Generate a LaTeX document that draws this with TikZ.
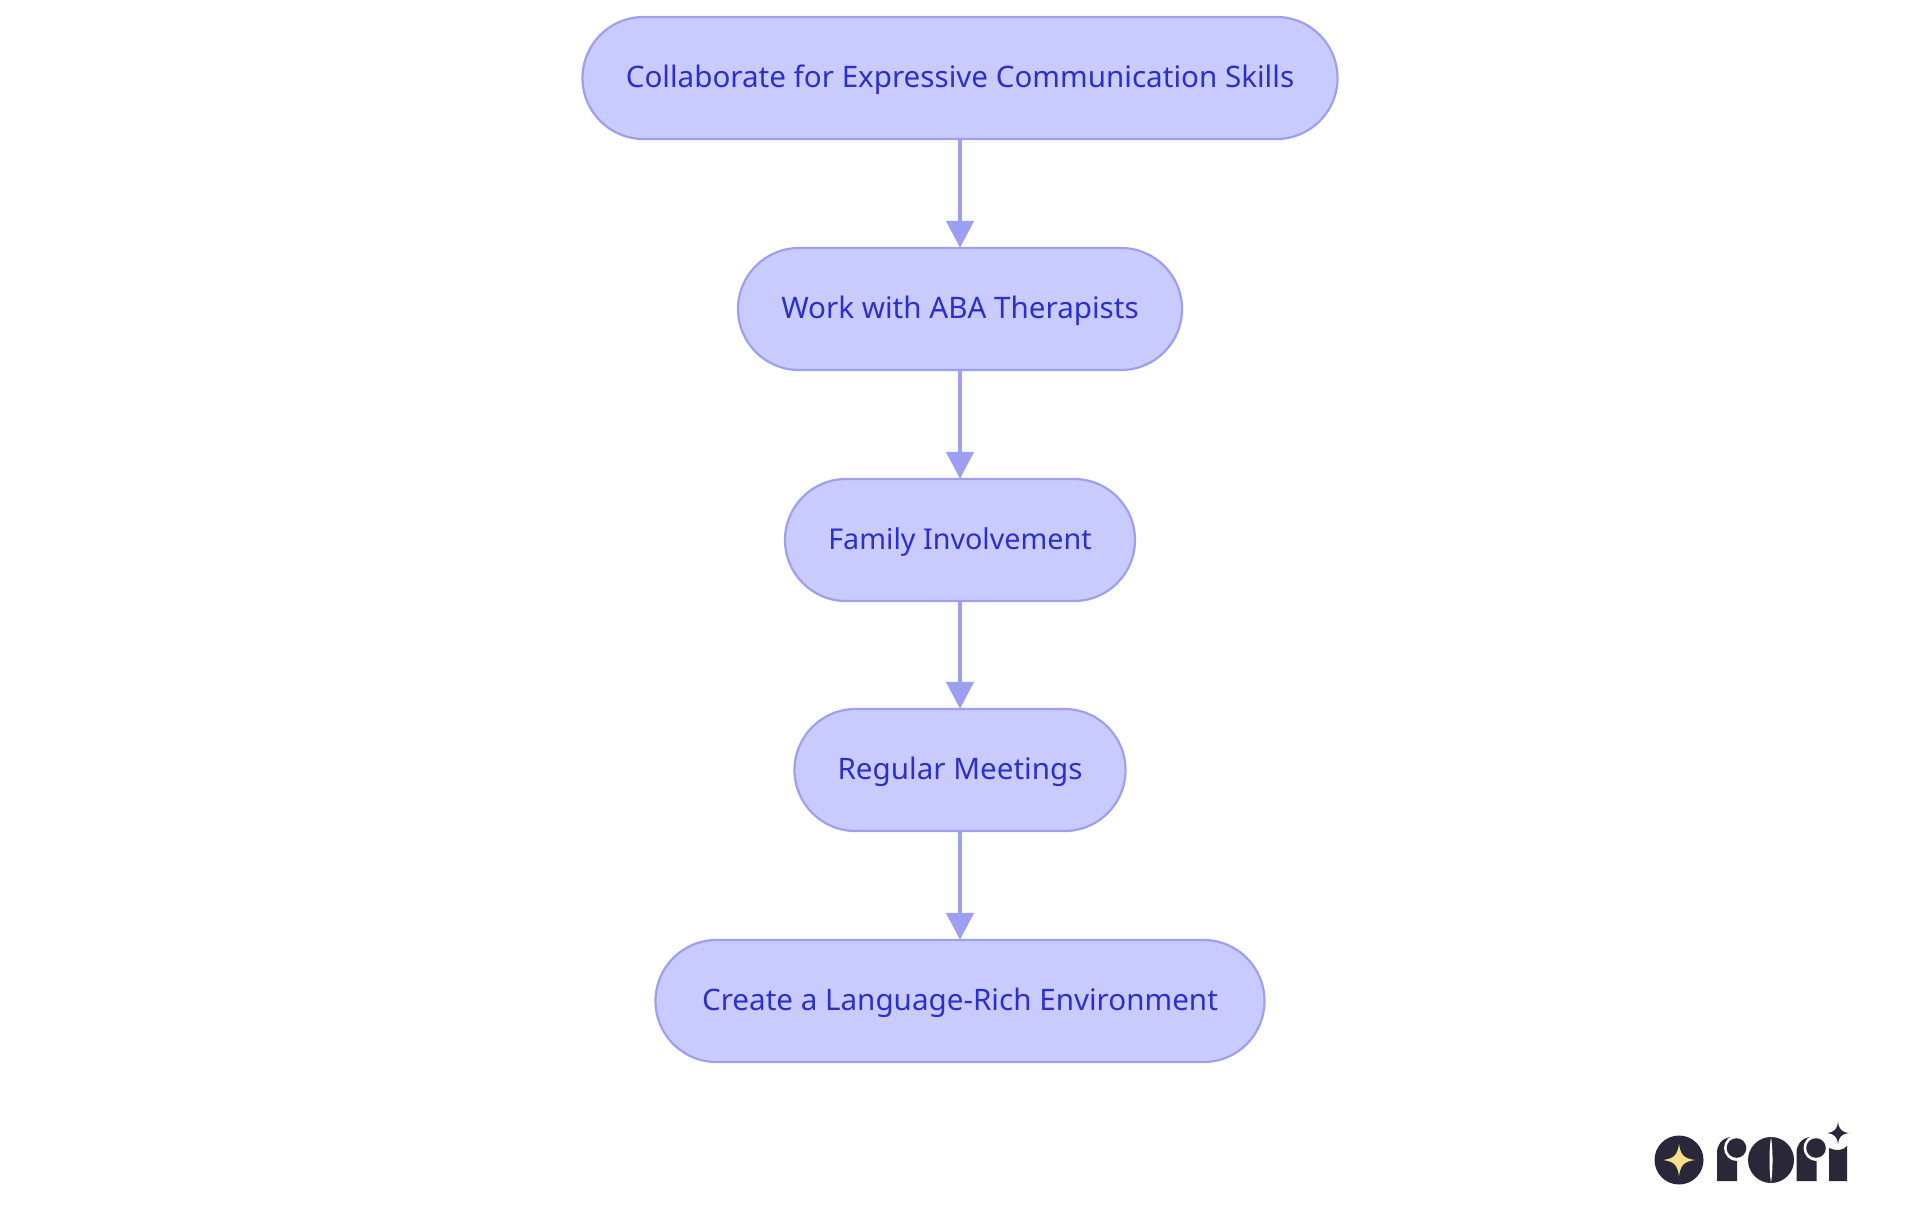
\documentclass[tikz,border=0pt]{standalone}
\usepackage{fontspec}
\setmainfont{Noto Sans}
\usetikzlibrary{arrows.meta}
\definecolor{pillfill}{HTML}{C9CBFF}
\definecolor{pillline}{HTML}{9DA0F2}
\definecolor{pilltext}{HTML}{2B2FCB}
\definecolor{logodark}{HTML}{2A2838}
\definecolor{logostar}{HTML}{FBDD8C}
\tikzset{
  pill/.style={draw=pillline,fill=pillfill,line width=1.1pt,rounded corners=30.5pt,minimum height=61pt,inner sep=0pt,text=pilltext,text height=12.3pt,text depth=3pt,font=\fontsize{14.8pt}{17pt}\selectfont},
  link/.style={draw=pillline,line width=2.3pt,-{Triangle[length=13.5pt,width=13.5pt]},shorten >=-0.5pt},
  logoshape/.style={fill=logodark,draw=none},
}
\begin{document}
\begin{tikzpicture}[x=0.5pt,y=-0.5pt]
\useasboundingbox[fill=white] (0,0) rectangle (1920,1215);
\node[pill,minimum width=377.5pt] (n1) at (960,78) {Collaborate for Expressive Communication Skills};
\node[pill,minimum width=222pt] (n2) at (960,309) {Work with ABA Therapists};
\node[pill,minimum width=175pt,font=\fontsize{14.35pt}{17pt}\selectfont] (n3) at (960,540) {Family Involvement};
\node[pill,minimum width=165.5pt] (n4) at (960,770) {Regular Meetings};
\node[pill,minimum width=304.5pt] (n5) at (960,1001) {Create a Language-Rich Environment};
\draw[link] (n1) -- (n2);
\draw[link] (n2) -- (n3);
\draw[link] (n3) -- (n4);
\draw[link] (n4) -- (n5);
% logo
\fill[logoshape] (1679,1160) circle[radius=24.5];
\fill[logostar] (1679,1144) .. controls (1680.5,1155) and (1684,1158.5) .. (1695,1160) .. controls (1684,1161.5) and (1680.5,1165) .. (1679,1176) .. controls (1677.5,1165) and (1674,1161.5) .. (1663,1160) .. controls (1674,1158.5) and (1677.5,1155) .. (1679,1144) -- cycle;
\foreach \dx in {0,79.5}{
 \fill[logoshape] (1717+\dx,1181) -- (1717+\dx,1153) .. controls (1717+\dx,1145) and (1721+\dx,1139) .. (1730+\dx,1137) -- (1737+\dx,1137) -- (1737+\dx,1181) -- cycle;
 \fill[white] (1737+\dx,1148) circle[radius=13];
 \fill[logoshape] (1736.5+\dx,1148) circle[radius=9.8];
}
\fill[logoshape] (1771,1160) circle[radius=23];
\fill[white] (1771,1137) .. controls (1769,1150) and (1769,1170) .. (1771,1183) .. controls (1773,1170) and (1773,1150) .. (1771,1137) -- cycle;
\fill[logoshape] (1829,1181) -- (1829,1148) .. controls (1835,1151) and (1843,1151) .. (1847,1146) -- (1847,1181) -- cycle;
\fill[logoshape] (1838,1122) .. controls (1839,1129.5) and (1841.5,1132) .. (1849,1133) .. controls (1841.5,1134) and (1839,1136.5) .. (1838,1144) .. controls (1837,1136.5) and (1834.5,1134) .. (1827,1133) .. controls (1834.5,1132) and (1837,1129.5) .. (1838,1122) -- cycle;
\end{tikzpicture}
\end{document}
